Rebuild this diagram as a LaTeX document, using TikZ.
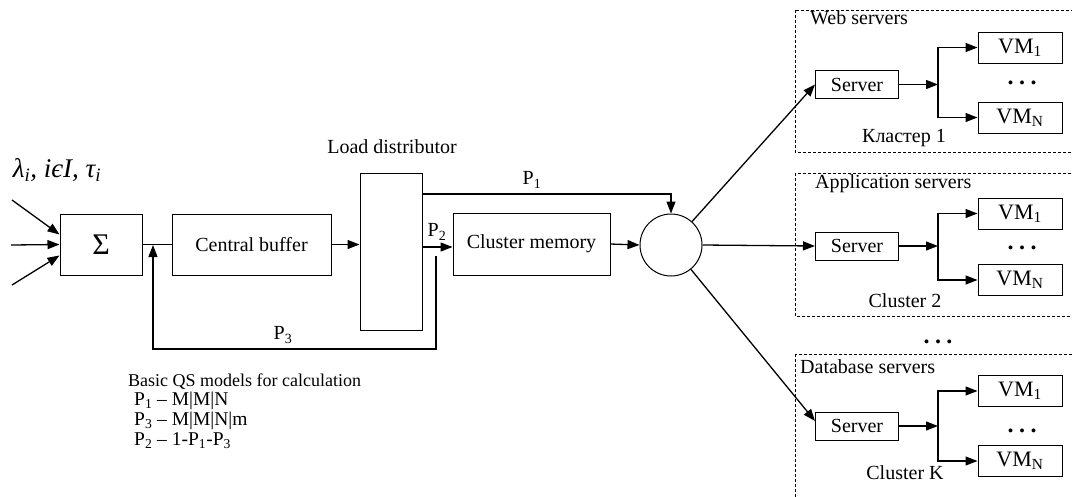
\documentclass[tikz,border=0pt]{standalone}
\usepackage{fontspec}
\setmainfont{Liberation Serif}
\usetikzlibrary{arrows.meta}
\newcommand{\threedots}{.\hspace{5.5pt}.\hspace{5.5pt}.}
\begin{document}
\begin{tikzpicture}[x=1pt,y=-1pt,
  font=\fontsize{20}{22}\selectfont,
  blk/.style={draw, line width=1pt, inner sep=0pt},
  srv/.style={draw, line width=1pt, inner sep=0pt, minimum width=83pt, minimum height=28pt, font=\fontsize{20}{22}\selectfont},
  vm/.style={draw, line width=1pt, inner sep=0pt, minimum width=84pt, minimum height=31pt, font=\fontsize{22}{24}\selectfont},
  arr/.style={line width=1.3pt, -{Triangle[length=12pt,width=9pt]}},
  ln/.style={line width=1.3pt},
  clu/.style={draw, line width=0.8pt, dash pattern=on 3pt off 2pt},
  lbl/.style={inner sep=0pt},
  qsl/.style={inner sep=0pt, anchor=west, font=\fontsize{19.5}{21}\selectfont},
  dots/.style={inner sep=0pt, anchor=base, font=\fontsize{24}{26}\selectfont\bfseries}]
\useasboundingbox (0,0) rectangle (1072,496);

% main chain
\node[blk, minimum width=82pt, minimum height=61pt, font=\fontsize{30}{32}\selectfont] (sigma) at (101,244.5) {Σ};
\node[blk, minimum width=159pt, minimum height=61pt] (cb) at (251.5,244.5) {Central buffer};
\node[blk, minimum width=62pt, minimum height=157pt] (ld) at (391,251.5) {};
\node[lbl] (ldl) at (392,147) {Load distributor};
\node[blk, minimum width=157pt, minimum height=62pt] (cm) at (531.5,244) {Cluster memory};
\node[draw, circle, line width=1pt, minimum size=62pt, inner sep=0pt] (circ) at (671,245) {};

% inputs
\coordinate (in1) at (12,200);
\coordinate (in2) at (11,245);
\coordinate (in3) at (12,285);
\draw[arr] (in1) -- ([yshift=10pt]sigma.west);
\draw[arr] (in2) -- (sigma.west);
\draw[arr] (in3) -- ([yshift=-11pt]sigma.west);
\node[lbl, font=\fontsize{27}{29}\selectfont\itshape] (lam) at (57,170) {λ\textsubscript{i}, iєI, τ\textsubscript{i}};

% chain connectors
\draw[ln] (sigma.east) -- (cb.west);
\draw[arr] (cb.east) -- (ld.west |- cb.east);
\draw[arr] (ld.east |- 0,247) -- (cm.west |- 0,247);
\draw[arr] (cm.east) -- (circ.west);
\draw[arr] (ld.east |- 0,194) -| (circ.north);
\node[lbl] (p1) at (532,180) {P\textsubscript{1}};
\node[lbl] (p2) at (437,232) {P\textsubscript{2}};

% feedback
\coordinate (fb) at (436,256);
\coordinate (j) at (153,245);
\draw[arr] (fb) |- (j |- 0,349) -- (j);
\node[lbl] (p3) at (283,335) {P\textsubscript{3}};

% QS models
\node[lbl, anchor=west, font=\fontsize{18}{20}\selectfont] (qs) at (128,382) {Basic QS models for calculation};
\node[qsl] (q1) at (134,401) {P\textsubscript{1} – M|M|N};
\node[qsl] (q3) at (134,421) {P\textsubscript{3} – M|M|N|m};
\node[qsl] (q2) at (134,441) {P\textsubscript{2} – 1-P\textsubscript{1}-P\textsubscript{3}};

% clusters
\draw[clu] (795,10) rectangle (1080,152);
\draw[clu] (795,173) rectangle (1080,316);
\draw[clu] (795,354) rectangle (1080,505);

\node[lbl, anchor=west] (t1) at (810,18) {Web servers};
\node[lbl, anchor=west] (t2) at (815,184) {Application servers};
\node[lbl, anchor=west] (t3) at (800,367) {Database servers};
\node[lbl] (k1) at (904,138) {Кластер 1};
\node[lbl] (k2) at (905,301) {Cluster 2};
\node[lbl] (k3) at (905,473) {Cluster K};
\node[dots] (dm) at (938,343) {\threedots};

% cluster 1
\node[srv] (s1) at (857,84.5) {Server};
\node[vm] (v11) at (1020,47.5) {VM\textsubscript{1}};
\node[vm] (v1n) at (1020,117.5) {VM\textsubscript{N}};
\node[dots] (d1) at (1022,84) {\threedots};
\coordinate (j1) at (938,84.5);
\draw[arr] (s1.east) -- (j1);
\draw[arr] (j1) |- (v11.west);
\draw[arr] (j1) |- (v1n.west);

% cluster 2
\node[srv] (s2) at (857,246) {Server};
\node[vm] (v21) at (1020,213.5) {VM\textsubscript{1}};
\node[vm] (v2n) at (1020,280) {VM\textsubscript{N}};
\node[dots] (d2) at (1022,249) {\threedots};
\coordinate (j2) at (938,246);
\draw[arr] (s2.east) -- (j2);
\draw[arr] (j2) |- (v21.west);
\draw[arr] (j2) |- (v2n.west);

% cluster K
\node[srv] (s3) at (857,426) {Server};
\node[vm] (v31) at (1020,391) {VM\textsubscript{1}};
\node[vm] (v3n) at (1020,461) {VM\textsubscript{N}};
\node[dots] (d3) at (1022,432) {\threedots};
\coordinate (j3) at (938,426);
\draw[arr] (s3.east) -- (j3);
\draw[arr] (j3) |- (v31.west);
\draw[arr] (j3) |- (v3n.west);

% circle to clusters
\draw[arr] (circ) -- (s1.west);
\draw[arr] (circ.east) -- (s2.west);
\draw[arr] (circ) -- ([yshift=5pt]s3.west);
\end{tikzpicture}
\end{document}
